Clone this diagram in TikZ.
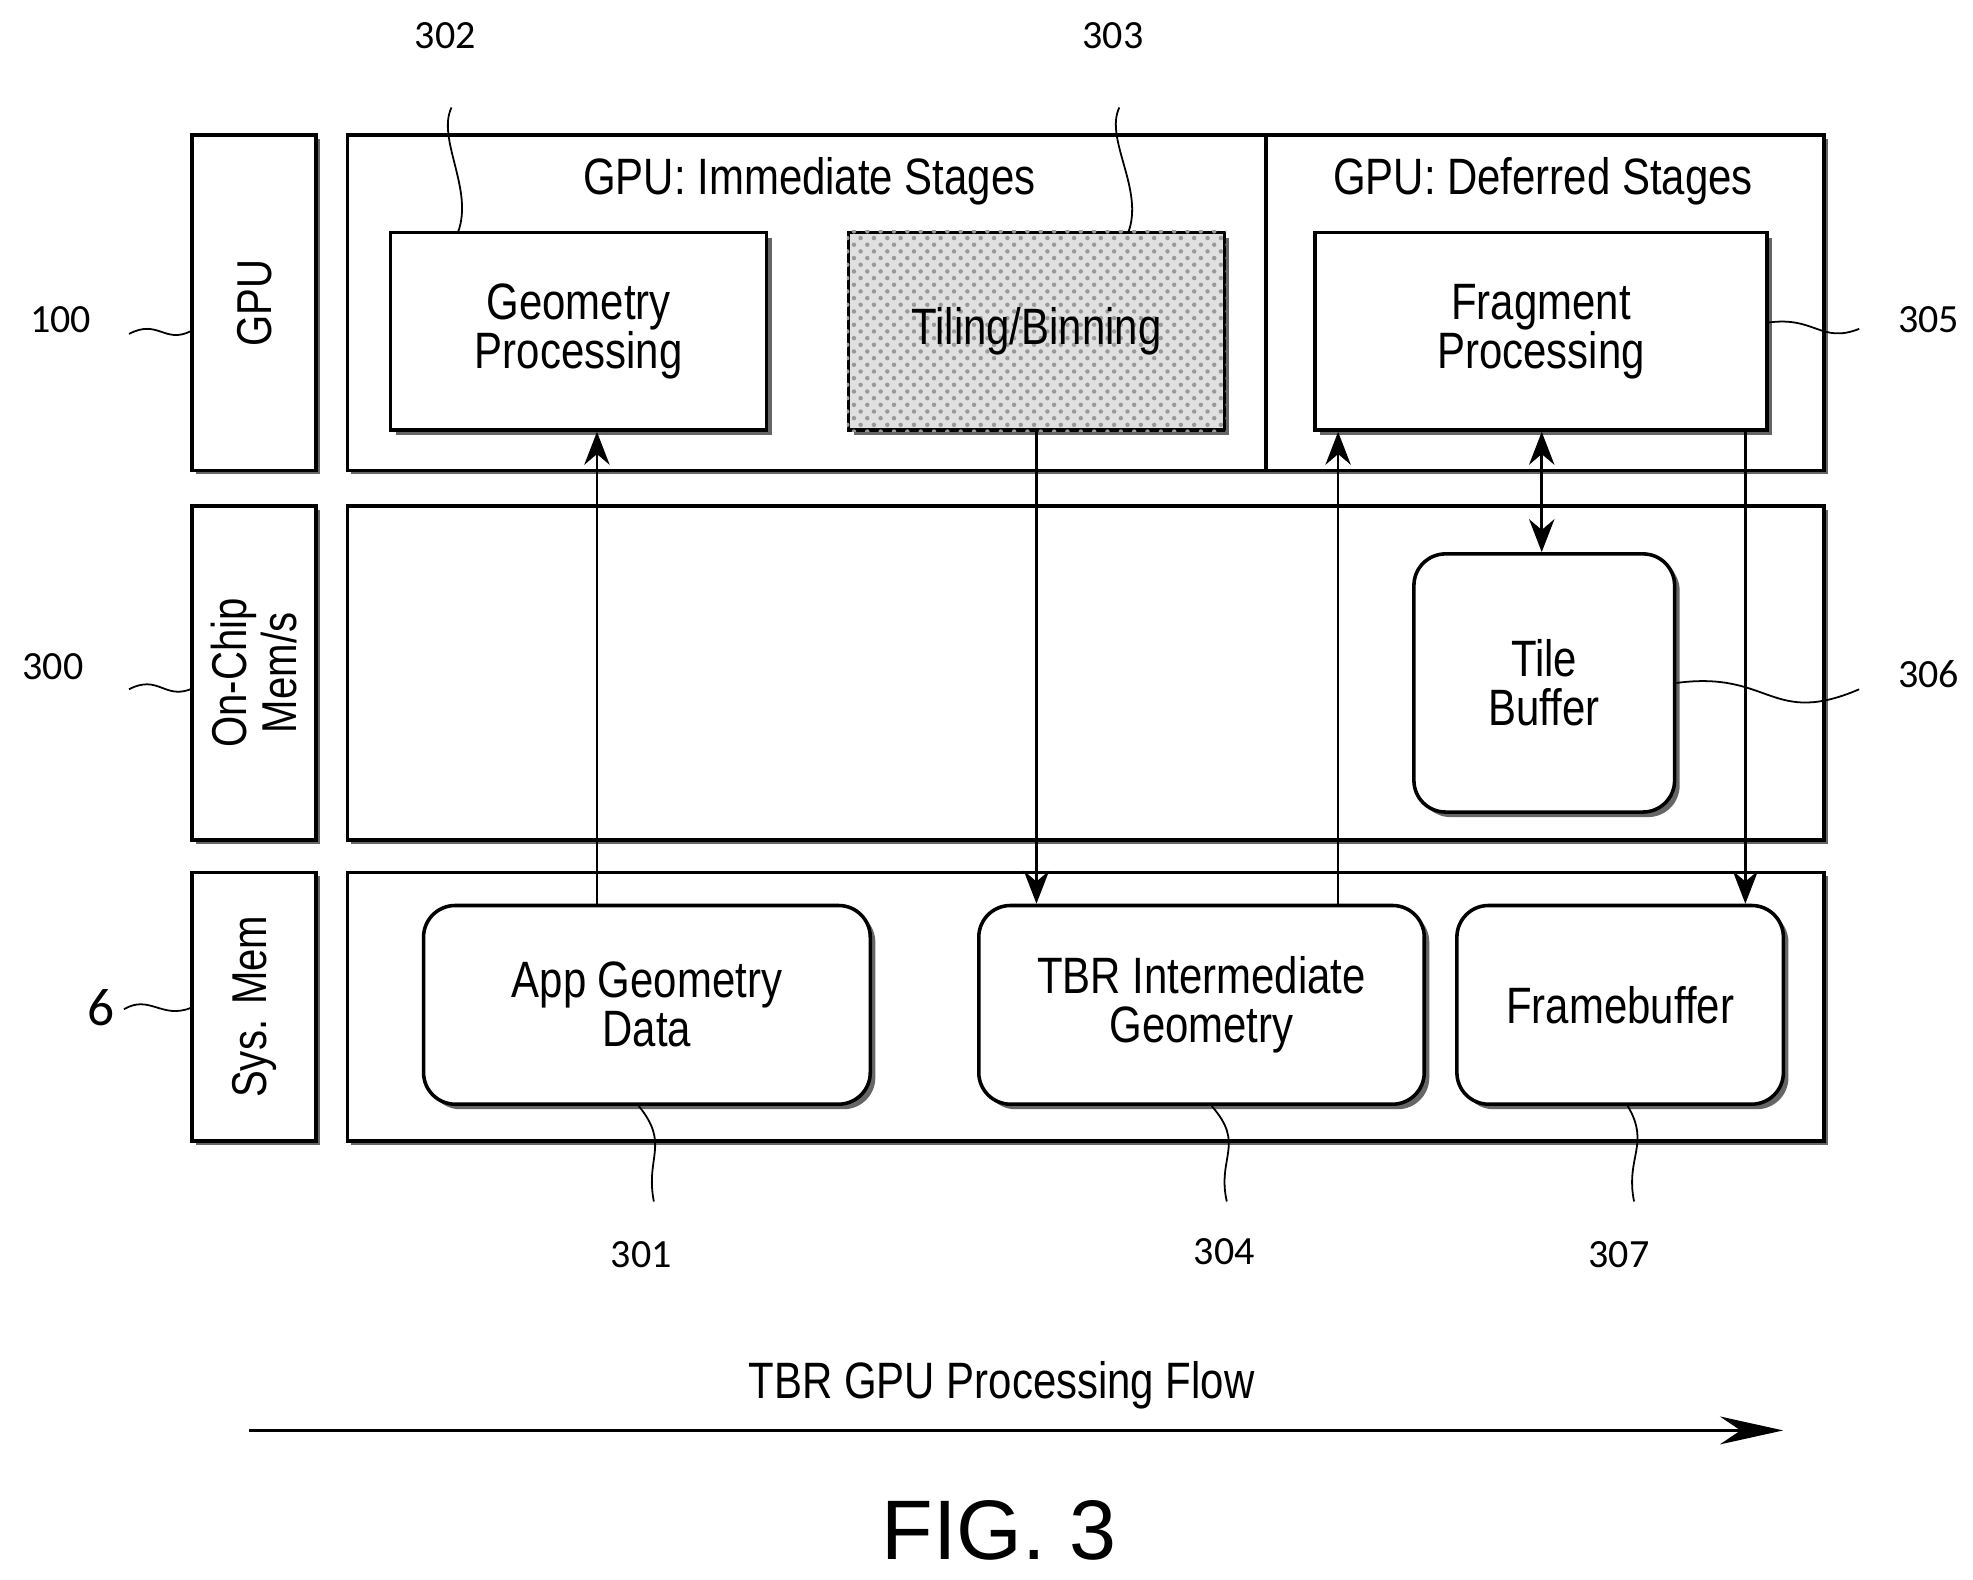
\documentclass[tikz,border=0pt]{standalone}
\usepackage{fontspec}
\setmainfont{Liberation Sans}[FakeStretch=0.82]
\newfontfamily\numfont{Carlito}
\newfontfamily\figfont{Liberation Sans}
\usetikzlibrary{arrows.meta,positioning,shadows,patterns}
\tikzset{
    frame/.style={draw,thick,inner sep=0pt},
    stage/.style={frame,drop shadow={shadow xshift=0.4mm,shadow yshift=-0.4mm,fill=black!60,opacity=1},fill=white,align=center,font=\fontsize{11.5}{11}\selectfont},
    store/.style={stage,rounded corners=0.25cm},
    lane/.style={frame,drop shadow={shadow xshift=0.3mm,shadow yshift=-0.3mm,fill=black!60,opacity=1},fill=white},
    lanelabel/.style={font=\fontsize{11}{10}\selectfont,align=center,rotate=90},
    refnum/.style={font=\numfont\fontsize{9}{10}\selectfont},
    leader/.style={thin},
    arr/.style={-{Stealth[length=2.6mm,width=2mm]},semithick},
    darr/.style={{Stealth[length=2.6mm,width=2mm]}-{Stealth[length=2.6mm,width=2mm]},semithick},
}
\begin{document}
\begin{tikzpicture}[x=0.01cm,y=-0.01cm]
    \useasboundingbox (0,0) rectangle (1560,1248.5);
    % lane labels
    \node[lane,minimum width=0.98cm,minimum height=2.65cm] (gpulab) at (201,239.5) {};
    \node[lanelabel] at (gpulab) {GPU};
    \node[lane,minimum width=0.98cm,minimum height=2.64cm] (chiplab) at (201,532) {};
    \node[lanelabel] at (chiplab) {On-Chip\\Mem/s};
    \node[lane,minimum width=0.98cm,minimum height=2.12cm] (syslab) at (201,796) {};
    \node[lanelabel] at (syslab) {Sys. Mem};
    % lanes
    \node[lane,minimum width=11.67cm,minimum height=2.65cm] (gpulane) at (858.5,239.5) {};
    \draw[thick] (1001,107) -- (1001,372);
    \node[lane,minimum width=11.67cm,minimum height=2.64cm] (chiplane) at (858.5,532) {};
    \node[lane,minimum width=11.67cm,minimum height=2.12cm] (syslane) at (858.5,796) {};
    \node[font=\fontsize{11.5}{11}\selectfont] (immed) at (640,143) {GPU: Immediate Stages};
    \node[font=\fontsize{11.5}{11}\selectfont] (defer) at (1220,143) {GPU: Deferred Stages};
    % stages
    \node[stage,minimum width=2.97cm,minimum height=1.56cm] (geom) at (457.5,262) {Geometry\\Processing};
    \node[stage,minimum width=2.97cm,minimum height=1.56cm,fill=black!12] (tiling) at (819.5,262) {};
    \fill[pattern=crosshatch dots,pattern color=black!40] (tiling.south west) rectangle (tiling.north east);
    \node[font=\fontsize{11.5}{11}\selectfont] at (tiling) {Tiling/Binning};
    \node[stage,minimum width=3.57cm,minimum height=1.56cm] (frag) at (1218.5,262) {Fragment\\Processing};
    \node[store,minimum width=2.06cm,minimum height=2.04cm] (tilebuf) at (1221,540) {Tile\\Buffer};
    \node[store,minimum width=3.53cm,minimum height=1.57cm] (appgeom) at (511.5,794.5) {App Geometry\\Data};
    \node[store,minimum width=3.52cm,minimum height=1.57cm] (tbrgeom) at (950,794.5) {TBR Intermediate\\Geometry};
    \node[store,minimum width=2.58cm,minimum height=1.57cm] (fbuf) at (1281,794.5) {Framebuffer};
    % data flow
    \draw[arr] (appgeom.north -| 472,0) -- (geom.south -| 472,0);
    \draw[arr] (tiling.south) -- (tbrgeom.north -| tiling.south);
    \draw[arr] (tbrgeom.north -| 1058,0) -- (frag.south -| 1058,0);
    \draw[darr] (frag.south -| 1219,0) -- (tilebuf.north -| 1219,0);
    \draw[arr] (frag.south -| 1380,0) -- (fbuf.north -| 1380,0);
    % reference numerals
    \node[refnum] (n302) at (352,28) {302};
    \draw[leader] (357,85) .. controls (345,110) and (375,150) .. (362,184);
    \node[refnum] (n303) at (880,28) {303};
    \draw[leader] (885,85) .. controls (873,110) and (905,150) .. (892,184);
    \node[refnum] (n100) at (48,253) {100};
    \draw[leader] (102,264) .. controls (125,252) and (130,272) .. (gpulab.west |- 0,262);
    \node[refnum] (n300) at (42,527) {300};
    \draw[leader] (102,545) .. controls (125,533) and (130,553) .. (chiplab.west |- 0,545);
    \node[refnum,font=\numfont\fontsize{12}{12}\selectfont] (n6) at (80,797) {6};
    \draw[leader] (98,798) .. controls (118,786) and (128,806) .. (syslab.west |- 0,797);
    \node[refnum] (n305) at (1525,253) {305};
    \draw[leader] (frag.east |- 0,255) .. controls (1435,250) and (1440,272) .. (1470,260);
    \node[refnum] (n306) at (1525,533) {306};
    \draw[leader] (tilebuf.east |- 0,540) .. controls (1400,530) and (1400,575) .. (1470,545);
    \node[refnum] (n301) at (507,992) {301};
    \draw[leader] (appgeom.south -| 505,0) .. controls (530,905) and (510,915) .. (517,950);
    \node[refnum] (n304) at (968,990) {304};
    \draw[leader] (tbrgeom.south -| 958,0) .. controls (985,905) and (962,915) .. (970,950);
    \node[refnum] (n307) at (1280,992) {307};
    \draw[leader] (fbuf.south -| 1287,0) .. controls (1305,905) and (1285,915) .. (1292,950);
    % processing flow
    \coordinate (flowstart) at (197,1131);
    \coordinate (flowend) at (1410,1131);
    \draw[-{Stealth[length=5mm,width=2.2mm]},thick] (flowstart) -- (flowend);
    \node[font=\fontsize{11.5}{11}\selectfont] (flowtxt) at (792,1095) {TBR GPU Processing Flow};
    \node[font=\figfont\fontsize{19}{19}\selectfont] (fig) at (790,1210) {FIG. 3};
\end{tikzpicture}
\end{document}
